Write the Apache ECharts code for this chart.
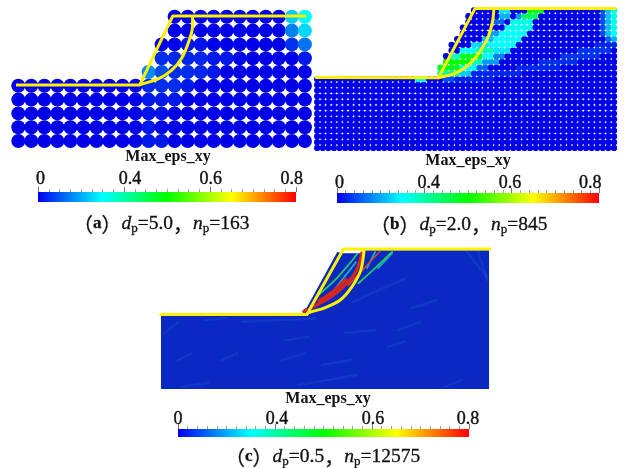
<!DOCTYPE html>
<html>
<head>
<meta charset="utf-8">
<style>html,body{margin:0;padding:0;background:#fff}#c{width:624px;height:468px;filter:blur(0.4px)}</style>
<script src="https://cdn.jsdelivr.net/npm/echarts@6/dist/echarts.min.js"></script>
</head>
<body>
<div id="c"></div>
<script>
// ---------- values ----------
const tickLabels = ['0', '0.4', '0.6', '0.8'];
const titleText = 'Max_eps_xy';

// Panel (a): dp = 5, rows of particles: first column of each row (bottom to top)
const dpA = 5, lastColA = 22;
const rowStartsA = [0, 0, 0, 0, 0, 10, 11, 11, 12, 12];
// [column, row, strain level] for particles that are not background blue
const raisedA = [
  [22, 9, 0.21], [21, 9, 0.16], [22, 8, 0.17], [21, 8, 0.1], [22, 7, 0.09], [21, 7, 0.04], [22, 6, 0.02],
  [10, 5, 0.11], [11, 5, 0.06], [12, 5, 0.035], [13, 5, 0.035], [14, 5, 0.03], [15, 5, 0.02],
  [12, 6, 0.03], [13, 6, 0.03], [14, 6, 0.03], [15, 6, 0.02], [16, 6, 0.02], [11, 6, 0.035],
  [13, 7, 0.015], [14, 7, 0.015], [10, 4, 0.035], [11, 4, 0.035], [12, 4, 0.035], [13, 4, 0.02],
  [10, 3, 0.02], [11, 3, 0.02], [12, 3, 0.02], [10, 2, 0.015], [11, 2, 0.015], [10, 1, 0.02],
  [10, 0, 0.02], [11, 0, 0.02]
];
const surfaceA = [[-0.9, 20.3], [46.6, 20.3], [59.3, 45.3], [110, 45.3]];
const slipA = [[46.7, 20.5], [53.7, 22.5], [58.9, 25.7], [62.7, 30], [65.2, 35.4], [66.8, 40.8], [66.9, 45]];

// Panel (b): dp = 2
const dpB = 2, lastColB = 53;
const rowStartsB = [0, 0, 0, 0, 0, 0, 0, 0, 0, 0, 0, 0, 0, 22, 22, 23, 23, 24, 24, 25, 26, 26, 27, 27, 28];
// [row, first column, last column, strain level]
const bandsB = [
  [12, 18, 19, 0.19], [12, 23, 24, 0.06], [12, 25, 31, 0.025],
  [13, 22, 22, 0.26], [13, 23, 25, 0.28], [13, 26, 27, 0.16], [13, 28, 36, 0.03],
  [14, 22, 25, 0.38], [14, 26, 28, 0.2], [14, 29, 30, 0.08], [14, 36, 43, 0.03],
  [15, 23, 27, 0.4], [15, 28, 29, 0.26], [15, 30, 32, 0.12], [15, 40, 46, 0.035],
  [16, 24, 25, 0.24], [16, 26, 29, 0.38], [16, 30, 31, 0.2], [16, 32, 33, 0.1], [16, 44, 50, 0.04],
  [17, 26, 28, 0.2], [17, 29, 31, 0.26], [17, 32, 34, 0.18], [17, 47, 52, 0.04],
  [18, 28, 30, 0.17], [18, 31, 35, 0.2], [18, 50, 53, 0.03],
  [19, 30, 31, 0.15], [19, 32, 36, 0.2], [19, 53, 53, 0.14], [19, 52, 52, 0.08],
  [20, 31, 32, 0.12], [20, 33, 37, 0.2], [20, 53, 53, 0.2], [20, 52, 52, 0.15], [20, 51, 51, 0.06],
  [21, 34, 38, 0.21], [21, 53, 53, 0.22], [21, 52, 52, 0.15], [21, 51, 51, 0.06],
  [22, 32, 33, 0.08], [22, 35, 38, 0.22], [22, 53, 53, 0.22], [22, 52, 52, 0.15], [22, 51, 51, 0.06],
  [23, 33, 34, 0.14], [23, 36, 36, 0.12], [23, 37, 39, 0.33], [23, 53, 53, 0.22], [23, 52, 52, 0.15], [23, 51, 51, 0.06],
  [24, 33, 34, 0.18], [24, 38, 40, 0.4], [24, 53, 53, 0.22], [24, 52, 52, 0.15], [24, 51, 51, 0.06]
];
const surfaceB = [[-0.5, 24.6], [43.3, 24.5], [56.4, 48.7], [107.3, 48.7]];
const slipB = [[43.3, 24.5], [49.2, 26], [54, 28.9], [58.1, 33.6], [61.1, 38.8], [62.7, 44.6], [63.1, 48.7]];

// Panel (c): dp = 0.5, continuous body plus strain streaks
const bodyC = [[0, 24.8], [47.7, 25.2], [59.1, 46], [61.1, 45.6], [67.4, 45.6], [68.1, 46.6], [110, 46.6]];
const surfaceC = [[-0.1, 25], [48.9, 25], [61.2, 47], [110.6, 47]];
const slipC = [[48.9, 25], [49.4, 25.6], [54.5, 27.1], [60.1, 29.9], [64, 34.3], [67, 39.9], [68.1, 46.6]];
const faintStreaksC = [
  [[27.1, 22.6], [51.7, 23.7]], [[1.3, 18.8], [5.7, 22.5]], [[14.8, 23.2], [22, 23.8]],
  [[61.7, 18.8], [71.8, 19.8]], [[79.5, 19.8], [86.9, 22.5]], [[53.9, 8.1], [64, 9.7]],
  [[46, 1.3], [65.7, 4.7]], [[76.2, 14.2], [81.9, 15.9]], [[5.7, 9.7], [10.3, 12]],
  [[20.4, 9.7], [25.8, 12]], [[40.5, 9.7], [48.3, 12]], [[95.3, 0.8], [100.9, 3]],
  [[6.9, 0.8], [15.8, 2]], [[41.6, 16.4], [49.3, 17.5]], [[64.5, 29.3], [81.9, 37.1]],
  [[84.1, 27.1], [92.5, 29.9]], [[102.6, 46], [109.3, 37.7]], [[106.4, 46], [109.4, 36.6]]
];
const cyanStreaksC = [
  [[69.1, 40.6], [71.8, 46]], [[72.8, 40.6], [77.5, 45.6]], [[56.7, 31.5], [65.4, 42.6]]
];
const greenStreaksC = [
  [[52.2, 31], [58.4, 36.6], [63.4, 42.3], [65.8, 45.3]],
  [[66.2, 35.5], [71.8, 40.6], [77.5, 46]]
];
const redStreaksC = [
  [[50.3, 27.2], [53.4, 28.8], [57.8, 31.5], [62.3, 35.5], [65.1, 38.9], [66.8, 43.3], [67.3, 45.6]],
  [[53, 29.6], [58, 33], [62, 36.8]],
  [[47.9, 26], [48.6, 26.6]]
];
const thinRedStreaksC = [[[62.9, 34.9], [73.3, 46.1]]];

// ---------- styles ----------
const ramp = ['#0000e6', '#00ffff', '#00ff00', '#ffff00', '#ff0000'];
const yellow = '#fff200';
const bodyBlue = '#0a28c2';
const serif = '"Liberation Serif", serif';

const grids = [], xAxes = [], yAxes = [], series = [], titles = [];

function addPanel(box, xMax, yMax) {
  const i = grids.length;
  grids.push(box);
  xAxes.push({ gridIndex: i, type: 'value', min: 0, max: xMax, show: false });
  yAxes.push({ gridIndex: i, type: 'value', min: 0, max: yMax, show: false });
  return { xAxisIndex: xAxes.length - 1, yAxisIndex: yAxes.length - 1 };
}

function outline(ax, data, smooth) {
  series.push(Object.assign({
    type: 'line', data, smooth: smooth ? 0.3 : false, showSymbol: false, clip: false, z: 10, silent: true,
    lineStyle: { color: yellow, width: 3, cap: 'round', join: 'round' }
  }, ax));
}

function particles(ax, dp, rowStarts, lastCol, levels, size) {
  const data = [];
  rowStarts.forEach((start, r) => {
    for (let c = start; c <= lastCol; c++) {
      data.push([c * dp, r * dp, levels.get(c + ',' + r) || 0]);
    }
  });
  series.push(Object.assign({
    type: 'scatter', data, symbolSize: size, clip: false, z: 2, silent: true,
    itemStyle: { opacity: 1 }
  }, ax));
  return series.length - 1;
}

function colorbar(box, minorSplit, labelSpots, labelGap) {
  const i = grids.length;
  grids.push(box);
  const common = { gridIndex: i, type: 'value', min: 0, max: 3, position: 'top', splitLine: { show: false } };
  xAxes.push(Object.assign({}, common, {
    interval: 1,
    axisLine: { show: true, onZero: false, lineStyle: { color: '#888', width: 0.6 } },
    axisTick: { show: true, length: 5, lineStyle: { color: '#555', width: 0.8 } },
    minorTick: { show: true, splitNumber: minorSplit, length: 3, lineStyle: { color: '#777', width: 0.7 } },
    axisLabel: { show: false }
  }));
  const xIdx = xAxes.length - 1;
  xAxes.push(Object.assign({}, common, {
    axisLine: { show: false }, axisTick: { show: false },
    axisLabel: {
      show: true, customValues: labelSpots, margin: labelGap, hideOverlap: false,
      formatter: (v) => tickLabels[labelSpots.indexOf(v)],
      fontFamily: serif, fontSize: 18, color: '#111', textBorderColor: '#111', textBorderWidth: 0.4
    }
  }));
  yAxes.push({ gridIndex: i, type: 'value', min: 0, max: 1, show: false });
  const n = ramp.length - 1;
  series.push({
    type: 'line', xAxisIndex: xIdx, yAxisIndex: yAxes.length - 1, showSymbol: false, silent: true,
    data: [[0, 1], [3, 1]], lineStyle: { width: 0 },
    areaStyle: {
      opacity: 1,
      color: new echarts.graphic.LinearGradient(0, 0, 1, 0,
        ['#0000f0', ramp[1], ramp[2], ramp[3], ramp[4]].map((color, k) => ({ offset: k / n, color })))
    }
  });
}

function heading(cx, y) {
  titles.push({
    text: titleText, left: cx, top: y - 8, textAlign: 'center', padding: 0,
    textStyle: { fontFamily: serif, fontSize: 16, fontWeight: 'bold', color: '#111' }
  });
}
function caption(x, y, letter, dp, np) {
  const plain = { fontWeight: 'normal', color: '#111', textBorderColor: '#111', textBorderWidth: 0.3 };
  titles.push({
    text: `{cjk|（}{b|${letter}}{cjk|）}{i|d}{sub|p}{n|=${dp}}{cjk|，}{i|n}{sub|p}{n|=${np}}`,
    left: x, top: y - 11, padding: 0,
    textStyle: {
      fontWeight: 'normal',
      rich: {
        cjk: Object.assign({}, plain, { fontFamily: '"Noto Sans CJK SC"', fontSize: 20, height: 22 }),
        b: Object.assign({}, plain, { fontFamily: serif, fontSize: 17, fontWeight: 'bold', height: 22 }),
        i: Object.assign({}, plain, { fontFamily: serif, fontSize: 19.5, fontStyle: 'italic', height: 22 }),
        n: Object.assign({}, plain, { fontFamily: serif, fontSize: 19.5, height: 22 }),
        sub: Object.assign({}, plain, { fontFamily: serif, fontSize: 13, padding: [9, 0, 0, 0], height: 13 })
      }
    }
  });
}

// ---------- panel (a) ----------
const axA = addPanel({ left: 18.3, width: 286.6, top: 16.8, height: 124.2 }, 110, 45);
const levelsA = new Map(raisedA.map(([c, r, v]) => [c + ',' + r, v]));
const idxA = particles(axA, dpA, rowStartsA, lastColA, levelsA, 14);
outline(axA, surfaceA);
outline(axA, slipA, true);
colorbar({ left: 38, width: 258, top: 192, height: 10 }, 8, [0.03, 1.07, 2.01, 2.95], 4);
heading(168, 157);
caption(73, 224, 'a', '5.0', '163');

// ---------- panel (b) ----------
const axB = addPanel({ left: 317.2, width: 296.8, top: 10.4, height: 137.5 }, 106, 48);
const levelsB = new Map();
bandsB.forEach(([r, c0, c1, v]) => { for (let c = c0; c <= c1; c++) levelsB.set(c + ',' + r, v); });
const idxB = particles(axB, dpB, rowStartsB, lastColB, levelsB, 6.3);
outline(axB, surfaceB);
outline(axB, slipB, true);
colorbar({ left: 337, width: 262, top: 193, height: 10 }, 10, [0.03, 1.05, 1.98, 2.9], 1);
heading(468, 161);
caption(370, 225, 'b', '2.0', '845');

// ---------- panel (c) ----------
const axC = addPanel({ left: 161, width: 328, top: 249, height: 140 }, 110, 47);
series.push(Object.assign({
  type: 'line', data: bodyC, showSymbol: false, silent: true, z: 1, clip: false,
  lineStyle: { width: 0 }, areaStyle: { color: bodyBlue, opacity: 1 }
}, axC));
function streaks(list, color, width, opacity) {
  list.forEach(data => series.push(Object.assign({
    type: 'line', data, smooth: 0.3, showSymbol: false, silent: true, z: 3, clip: false,
    lineStyle: { color, width, opacity, cap: 'round' }
  }, axC)));
}
streaks(faintStreaksC, '#2f6be0', 2.5, 0.22);
streaks(cyanStreaksC, '#19c8c8', 1.8, 0.8);
streaks(greenStreaksC, '#23c860', 1.8, 1);
streaks(redStreaksC, '#d8261c', 3.2, 1);
streaks(thinRedStreaksC, '#d8461c', 1.6, 1);
outline(axC, surfaceC);
outline(axC, slipC, true);
colorbar({ left: 178, width: 291, top: 429, height: 8 }, 10, [0, 1.02, 2.01, 2.99], 1);
heading(328, 399);
caption(225, 457, 'c', '0.5', '12575');

const chart = echarts.init(document.getElementById('c'), null, { renderer: 'canvas', width: 624, height: 468 });
chart.setOption({
  animation: false,
  backgroundColor: '#ffffff',
  title: titles,
  grid: grids,
  xAxis: xAxes,
  yAxis: yAxes,
  visualMap: [{
    show: false, type: 'continuous', seriesIndex: [idxA, idxB], dimension: 2, min: 0, max: 0.8,
    inRange: { color: ramp }
  }],
  series
});
</script>
</body>
</html>
